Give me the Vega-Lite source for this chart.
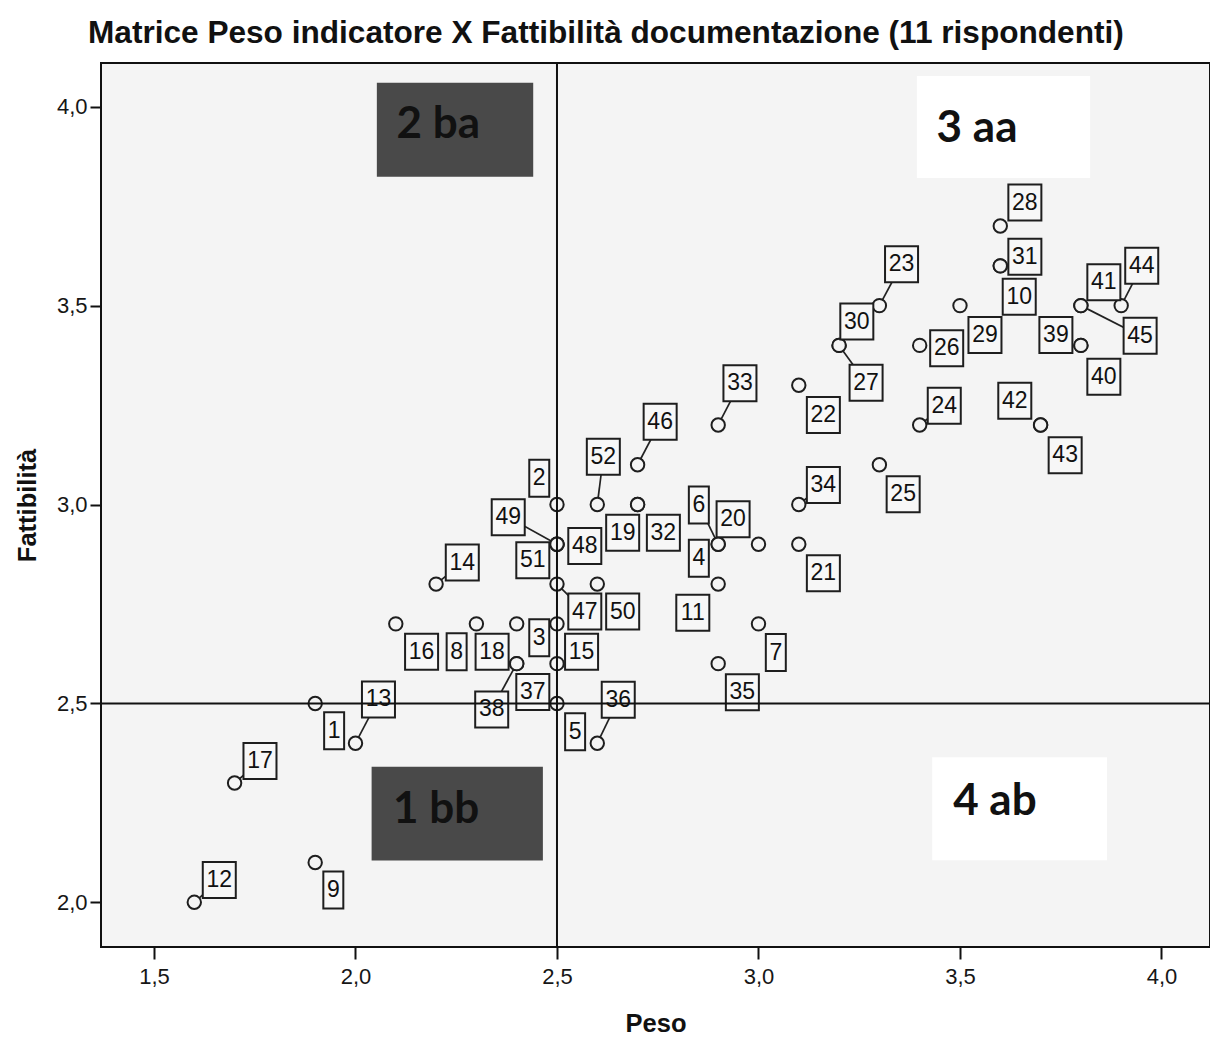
{
  "$schema": "https://vega.github.io/schema/vega-lite/v6.json",
  "width": 1109,
  "height": 884,
  "autosize": {"type": "none"},
  "padding": {"left": 101, "top": 63, "right": 0, "bottom": 90},
  "background": "#ffffff",
  "title": {
    "text": "Matrice Peso indicatore X Fattibilità documentazione (11 rispondenti)",
    "anchor": "start",
    "frame": "group",
    "dx": -13,
    "offset": 12,
    "font": "Liberation Sans",
    "fontSize": 31.6,
    "fontWeight": "bold",
    "color": "#111111"
  },
  "config": {
    "view": {"stroke": "#111111", "strokeWidth": 2, "fill": "#f4f4f4"},
    "axis": {
      "labelFont": "Liberation Sans",
      "labelFontSize": 22,
      "labelColor": "#161616",
      "titleFont": "Liberation Sans",
      "titleFontSize": 25.5,
      "titleFontWeight": "bold",
      "titleColor": "#111111",
      "tickColor": "#111111",
      "tickWidth": 2,
      "domain": false,
      "grid": false
    }
  },
  "datasets": {
    "punti": [
      {"id": 1, "peso": 1.9, "fattibilita": 2.5, "lab_peso": 1.947, "lab_fatt": 2.431},
      {"id": 2, "peso": 2.5, "fattibilita": 3.0, "lab_peso": 2.456, "lab_fatt": 3.066},
      {"id": 3, "peso": 2.5, "fattibilita": 2.7, "lab_peso": 2.456, "lab_fatt": 2.665},
      {"id": 4, "peso": 2.9, "fattibilita": 2.9, "lab_peso": 2.852, "lab_fatt": 2.865},
      {"id": 5, "peso": 2.5, "fattibilita": 2.5, "lab_peso": 2.545, "lab_fatt": 2.429},
      {"id": 6, "peso": 2.9, "fattibilita": 2.9, "lab_peso": 2.852, "lab_fatt": 2.999},
      {"id": 7, "peso": 3.0, "fattibilita": 2.7, "lab_peso": 3.043, "lab_fatt": 2.628},
      {"id": 8, "peso": 2.3, "fattibilita": 2.7, "lab_peso": 2.251, "lab_fatt": 2.630},
      {"id": 9, "peso": 1.9, "fattibilita": 2.1, "lab_peso": 1.945, "lab_fatt": 2.031},
      {"id": 10, "peso": 3.6, "fattibilita": 3.6, "lab_peso": 3.647, "lab_fatt": 3.522},
      {"id": 11, "peso": 2.9, "fattibilita": 2.8, "lab_peso": 2.837, "lab_fatt": 2.728},
      {"id": 12, "peso": 1.6, "fattibilita": 2.0, "lab_peso": 1.662, "lab_fatt": 2.056},
      {"id": 13, "peso": 2.0, "fattibilita": 2.4, "lab_peso": 2.057, "lab_fatt": 2.510},
      {"id": 14, "peso": 2.2, "fattibilita": 2.8, "lab_peso": 2.265, "lab_fatt": 2.854},
      {"id": 15, "peso": 2.5, "fattibilita": 2.6, "lab_peso": 2.561, "lab_fatt": 2.630},
      {"id": 16, "peso": 2.1, "fattibilita": 2.7, "lab_peso": 2.164, "lab_fatt": 2.630},
      {"id": 17, "peso": 1.7, "fattibilita": 2.3, "lab_peso": 1.763, "lab_fatt": 2.355},
      {"id": 18, "peso": 2.4, "fattibilita": 2.7, "lab_peso": 2.339, "lab_fatt": 2.630},
      {"id": 19, "peso": 2.7, "fattibilita": 3.0, "lab_peso": 2.663, "lab_fatt": 2.929},
      {"id": 20, "peso": 3.0, "fattibilita": 2.9, "lab_peso": 2.937, "lab_fatt": 2.963},
      {"id": 21, "peso": 3.1, "fattibilita": 2.9, "lab_peso": 3.161, "lab_fatt": 2.827},
      {"id": 22, "peso": 3.1, "fattibilita": 3.3, "lab_peso": 3.161, "lab_fatt": 3.225},
      {"id": 23, "peso": 3.3, "fattibilita": 3.5, "lab_peso": 3.355, "lab_fatt": 3.604},
      {"id": 24, "peso": 3.4, "fattibilita": 3.2, "lab_peso": 3.461, "lab_fatt": 3.248},
      {"id": 25, "peso": 3.3, "fattibilita": 3.1, "lab_peso": 3.359, "lab_fatt": 3.026},
      {"id": 26, "peso": 3.4, "fattibilita": 3.4, "lab_peso": 3.467, "lab_fatt": 3.393},
      {"id": 27, "peso": 3.2, "fattibilita": 3.4, "lab_peso": 3.267, "lab_fatt": 3.306},
      {"id": 28, "peso": 3.6, "fattibilita": 3.7, "lab_peso": 3.661, "lab_fatt": 3.759},
      {"id": 29, "peso": 3.5, "fattibilita": 3.5, "lab_peso": 3.562, "lab_fatt": 3.426},
      {"id": 30, "peso": 3.2, "fattibilita": 3.4, "lab_peso": 3.244, "lab_fatt": 3.460},
      {"id": 31, "peso": 3.6, "fattibilita": 3.6, "lab_peso": 3.661, "lab_fatt": 3.623},
      {"id": 32, "peso": 2.7, "fattibilita": 3.0, "lab_peso": 2.764, "lab_fatt": 2.929},
      {"id": 33, "peso": 2.9, "fattibilita": 3.2, "lab_peso": 2.954, "lab_fatt": 3.305},
      {"id": 34, "peso": 3.1, "fattibilita": 3.0, "lab_peso": 3.161, "lab_fatt": 3.049},
      {"id": 35, "peso": 2.9, "fattibilita": 2.6, "lab_peso": 2.960, "lab_fatt": 2.528},
      {"id": 36, "peso": 2.6, "fattibilita": 2.4, "lab_peso": 2.652, "lab_fatt": 2.509},
      {"id": 37, "peso": 2.4, "fattibilita": 2.6, "lab_peso": 2.440, "lab_fatt": 2.529},
      {"id": 38, "peso": 2.4, "fattibilita": 2.6, "lab_peso": 2.338, "lab_fatt": 2.485},
      {"id": 39, "peso": 3.8, "fattibilita": 3.4, "lab_peso": 3.738, "lab_fatt": 3.426},
      {"id": 40, "peso": 3.8, "fattibilita": 3.4, "lab_peso": 3.857, "lab_fatt": 3.321},
      {"id": 41, "peso": 3.8, "fattibilita": 3.5, "lab_peso": 3.857, "lab_fatt": 3.559},
      {"id": 42, "peso": 3.7, "fattibilita": 3.2, "lab_peso": 3.636, "lab_fatt": 3.261},
      {"id": 43, "peso": 3.7, "fattibilita": 3.2, "lab_peso": 3.761, "lab_fatt": 3.124},
      {"id": 44, "peso": 3.9, "fattibilita": 3.5, "lab_peso": 3.951, "lab_fatt": 3.600},
      {"id": 45, "peso": 3.8, "fattibilita": 3.5, "lab_peso": 3.947, "lab_fatt": 3.424},
      {"id": 46, "peso": 2.7, "fattibilita": 3.1, "lab_peso": 2.756, "lab_fatt": 3.208},
      {"id": 47, "peso": 2.5, "fattibilita": 2.8, "lab_peso": 2.569, "lab_fatt": 2.731},
      {"id": 48, "peso": 2.5, "fattibilita": 2.9, "lab_peso": 2.569, "lab_fatt": 2.896},
      {"id": 49, "peso": 2.5, "fattibilita": 2.9, "lab_peso": 2.379, "lab_fatt": 2.968},
      {"id": 50, "peso": 2.6, "fattibilita": 2.8, "lab_peso": 2.663, "lab_fatt": 2.731},
      {"id": 51, "peso": 2.5, "fattibilita": 2.9, "lab_peso": 2.440, "lab_fatt": 2.860},
      {"id": 52, "peso": 2.6, "fattibilita": 3.0, "lab_peso": 2.615, "lab_fatt": 3.120}
    ],
    "quadranti": [
      {"testo": "2 ba", "tipo": "scuro", "x1": 2.053, "x2": 2.441, "y1": 3.824, "y2": 4.060, "tx": 2.102, "ty": 3.921},
      {"testo": "3 aa", "tipo": "chiaro", "x1": 3.393, "x2": 3.823, "y1": 3.821, "y2": 4.077, "tx": 3.442, "ty": 3.912},
      {"testo": "1 bb", "tipo": "scuro", "x1": 2.040, "x2": 2.465, "y1": 2.105, "y2": 2.341, "tx": 2.093, "ty": 2.200},
      {"testo": "4 ab", "tipo": "chiaro", "x1": 3.431, "x2": 3.865, "y1": 2.106, "y2": 2.365, "tx": 3.483, "ty": 2.219}
    ],
    "soglie": [{"soglia": 2.5}]
  },
  "layer": [
    {
      "data": {"name": "quadranti"},
      "mark": {"type": "rect"},
      "encoding": {
        "x": {
          "field": "x1", "type": "quantitative", "title": "Peso",
          "scale": {"domain": [1.3685, 4.1204], "nice": false, "zero": false},
          "axis": {
            "title": "Peso",
            "values": [1.5, 2.0, 2.5, 3.0, 3.5, 4.0],
            "labelExpr": "replace(format(datum.value, '.1f'), '.', ',')",
            "labelFontSize": 22,
            "tickSize": 12,
            "labelPadding": 7,
            "titlePadding": 24
          }
        },
        "x2": {"field": "x2"},
        "y": {
          "field": "y1", "type": "quantitative", "title": "Fattibilità",
          "scale": {"domain": [1.8877, 4.1099], "nice": false, "zero": false},
          "axis": {
            "title": "Fattibilità",
            "values": [2.0, 2.5, 3.0, 3.5, 4.0],
            "labelExpr": "replace(format(datum.value, '.1f'), '.', ',')",
            "labelFontSize": 22,
            "tickSize": 11,
            "labelPadding": 3,
            "titlePadding": 16
          }
        },
        "y2": {"field": "y2"},
        "color": {
          "field": "tipo", "type": "nominal",
          "scale": {"domain": ["scuro", "chiaro"], "range": ["#494949", "#ffffff"]},
          "legend": null
        }
      }
    },
    {
      "data": {"name": "quadranti"},
      "mark": {"type": "text", "align": "left", "baseline": "alphabetic", "font": "Lato", "fontSize": 44, "fontWeight": "bold", "color": "#111111"},
      "encoding": {
        "x": {"field": "tx", "type": "quantitative", "title": "Peso"},
        "y": {"field": "ty", "type": "quantitative", "title": "Fattibilità"},
        "text": {"field": "testo"}
      }
    },
    {
      "data": {"name": "punti"},
      "transform": [{"filter": {"field": "id", "oneOf": [6, 12, 13, 14, 17, 23, 24, 27, 33, 34, 36, 38, 44, 45, 46, 47, 49, 52]}}],
      "mark": {"type": "rule", "color": "#222222", "strokeWidth": 1.7},
      "encoding": {
        "x": {"field": "peso", "type": "quantitative", "title": "Peso"},
        "y": {"field": "fattibilita", "type": "quantitative", "title": "Fattibilità"},
        "x2": {"field": "lab_peso"},
        "y2": {"field": "lab_fatt"}
      }
    },
    {
      "data": {"name": "punti"},
      "mark": {"type": "point", "shape": "circle", "filled": true, "fill": "#f4f4f4", "stroke": "#1e1e1e", "strokeWidth": 2, "size": 180, "opacity": 1},
      "encoding": {
        "x": {"field": "peso", "type": "quantitative", "title": "Peso"},
        "y": {"field": "fattibilita", "type": "quantitative", "title": "Fattibilità"}
      }
    },
    {
      "data": {"name": "punti"},
      "transform": [{"filter": "datum.id < 10"}],
      "mark": {"type": "point", "shape": "M-0.54,-1H0.54V1H-0.54Z", "filled": true, "fill": "#f7f7f7", "stroke": "#1e1e1e", "strokeWidth": 2, "size": 1369, "opacity": 1},
      "encoding": {
        "x": {"field": "lab_peso", "type": "quantitative", "title": "Peso"},
        "y": {"field": "lab_fatt", "type": "quantitative", "title": "Fattibilità"}
      }
    },
    {
      "data": {"name": "punti"},
      "transform": [{"filter": "datum.id >= 10"}],
      "mark": {"type": "point", "shape": "M-0.917,-1H0.917V1H-0.917Z", "filled": true, "fill": "#f7f7f7", "stroke": "#1e1e1e", "strokeWidth": 2, "size": 1296, "opacity": 1},
      "encoding": {
        "x": {"field": "lab_peso", "type": "quantitative", "title": "Peso"},
        "y": {"field": "lab_fatt", "type": "quantitative", "title": "Fattibilità"}
      }
    },
    {
      "data": {"name": "soglie"},
      "mark": {"type": "rule", "color": "#111111", "strokeWidth": 2},
      "encoding": {
        "x": {"field": "soglia", "type": "quantitative", "title": "Peso"}
      }
    },
    {
      "data": {"name": "soglie"},
      "mark": {"type": "rule", "color": "#111111", "strokeWidth": 2},
      "encoding": {
        "y": {"field": "soglia", "type": "quantitative", "title": "Fattibilità"}
      }
    },
    {
      "data": {"name": "punti"},
      "mark": {"type": "text", "align": "center", "baseline": "middle", "font": "Liberation Sans", "fontSize": 23, "color": "#111111"},
      "encoding": {
        "x": {"field": "lab_peso", "type": "quantitative", "title": "Peso"},
        "y": {"field": "lab_fatt", "type": "quantitative", "title": "Fattibilità"},
        "text": {"field": "id", "type": "nominal"}
      }
    }
  ]
}
